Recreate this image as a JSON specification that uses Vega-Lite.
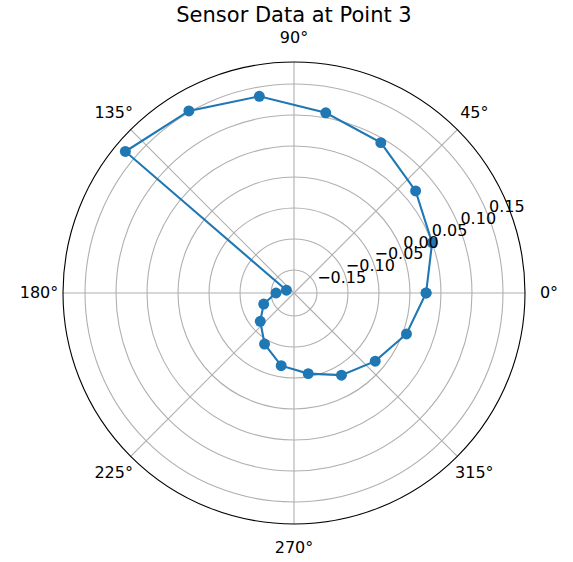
{
  "$schema": "https://vega.github.io/schema/vega-lite/v6.json",
  "width": 462,
  "height": 462,
  "autosize": "none",
  "padding": {"left": 63, "top": 62, "right": 48, "bottom": 38},
  "background": "white",
  "title": {
    "text": "Sensor Data at Point 3",
    "font": "DejaVu Sans",
    "fontSize": 21,
    "fontWeight": "normal",
    "color": "black",
    "anchor": "middle",
    "offset": 4
  },
  "config": {
    "view": {"stroke": null},
    "text": {"font": "DejaVu Sans", "fontSize": 16, "color": "black"}
  },
  "datasets": {
    "series": [
      {"i": 0, "theta": 0, "r": 0.026},
      {"i": 1, "theta": 20, "r": 0.050},
      {"i": 2, "theta": 40, "r": 0.069},
      {"i": 3, "theta": 60, "r": 0.093},
      {"i": 4, "theta": 80, "r": 0.108},
      {"i": 5, "theta": 100, "r": 0.135},
      {"i": 6, "theta": 120, "r": 0.152},
      {"i": 7, "theta": 140, "r": 0.168},
      {"i": 8, "theta": 160, "r": -0.174},
      {"i": 9, "theta": 180, "r": -0.158},
      {"i": 10, "theta": 200, "r": -0.135},
      {"i": 11, "theta": 220, "r": -0.116},
      {"i": 12, "theta": 240, "r": -0.092},
      {"i": 13, "theta": 260, "r": -0.068},
      {"i": 14, "theta": 280, "r": -0.055},
      {"i": 15, "theta": 300, "r": -0.034},
      {"i": 16, "theta": 320, "r": -0.016},
      {"i": 17, "theta": 340, "r": 0.006},
      {"i": 18, "theta": 360, "r": 0.026}
    ],
    "rgrid": [
      {"r": -0.15, "label": "−0.15"},
      {"r": -0.10, "label": "−0.10"},
      {"r": -0.05, "label": "−0.05"},
      {"r": 0.00, "label": "0.00"},
      {"r": 0.05, "label": "0.05"},
      {"r": 0.10, "label": "0.10"},
      {"r": 0.15, "label": "0.15"}
    ],
    "angles": [
      {"deg": 0, "label": "0°"},
      {"deg": 45, "label": "45°"},
      {"deg": 90, "label": "90°"},
      {"deg": 135, "label": "135°"},
      {"deg": 180, "label": "180°"},
      {"deg": 225, "label": "225°"},
      {"deg": 270, "label": "270°"},
      {"deg": 315, "label": "315°"}
    ],
    "edge": [{"r": 0.1855}]
  },
  "layer": [
    {
      "data": {"name": "rgrid"},
      "transform": [{"calculate": "datum.r + 0.187", "as": "rr"}],
      "mark": {"type": "point", "shape": "circle", "filled": false, "stroke": "#b0b0b0", "strokeWidth": 1.1, "opacity": 1},
      "encoding": {
        "x": {"datum": 0, "type": "quantitative", "scale": {"domain": [-0.3725, 0.3725], "nice": false, "zero": false}, "axis": null},
        "y": {"datum": 0, "type": "quantitative", "scale": {"domain": [-0.3725, 0.3725], "nice": false, "zero": false}, "axis": null},
        "size": {"field": "rr", "type": "quantitative", "scale": {"type": "pow", "exponent": 2, "domain": [0, 0.3725], "range": [0, 213444], "zero": true, "nice": false}, "legend": null}
      }
    },
    {
      "data": {"name": "angles"},
      "transform": [
        {"calculate": "0.3725 * cos(datum.deg * PI / 180)", "as": "ex"},
        {"calculate": "0.3725 * sin(datum.deg * PI / 180)", "as": "ey"}
      ],
      "mark": {"type": "rule", "color": "#b0b0b0", "strokeWidth": 1.1},
      "encoding": {
        "x": {"field": "ex", "type": "quantitative", "scale": {"domain": [-0.3725, 0.3725], "nice": false, "zero": false}, "axis": null},
        "y": {"field": "ey", "type": "quantitative", "scale": {"domain": [-0.3725, 0.3725], "nice": false, "zero": false}, "axis": null},
        "x2": {"datum": 0},
        "y2": {"datum": 0}
      }
    },
    {
      "data": {"name": "edge"},
      "transform": [{"calculate": "datum.r + 0.187", "as": "rr"}],
      "mark": {"type": "point", "shape": "circle", "filled": false, "stroke": "black", "strokeWidth": 1.1, "opacity": 1},
      "encoding": {
        "x": {"datum": 0, "type": "quantitative", "scale": {"domain": [-0.3725, 0.3725], "nice": false, "zero": false}, "axis": null},
        "y": {"datum": 0, "type": "quantitative", "scale": {"domain": [-0.3725, 0.3725], "nice": false, "zero": false}, "axis": null},
        "size": {"field": "rr", "type": "quantitative", "scale": {"type": "pow", "exponent": 2, "domain": [0, 0.3725], "range": [0, 213444], "zero": true, "nice": false}, "legend": null}
      }
    },
    {
      "data": {"name": "series"},
      "transform": [
        {"calculate": "(datum.r + 0.187) * cos(datum.theta * PI / 180)", "as": "px"},
        {"calculate": "(datum.r + 0.187) * sin(datum.theta * PI / 180)", "as": "py"}
      ],
      "mark": {"type": "line", "color": "#1f77b4", "strokeWidth": 2.1, "point": {"filled": true, "size": 120, "color": "#1f77b4", "opacity": 1}},
      "encoding": {
        "x": {"field": "px", "type": "quantitative", "scale": {"domain": [-0.3725, 0.3725], "nice": false, "zero": false}, "axis": null},
        "y": {"field": "py", "type": "quantitative", "scale": {"domain": [-0.3725, 0.3725], "nice": false, "zero": false}, "axis": null},
        "order": {"field": "i", "type": "quantitative"}
      }
    },
    {
      "data": {"name": "rgrid"},
      "transform": [
        {"calculate": "(datum.r + 0.187) * cos(22.5 * PI / 180)", "as": "lx"},
        {"calculate": "(datum.r + 0.187) * sin(22.5 * PI / 180)", "as": "ly"}
      ],
      "mark": {"type": "text", "align": "left", "baseline": "bottom", "dx": 2, "dy": 2},
      "encoding": {
        "x": {"field": "lx", "type": "quantitative", "scale": {"domain": [-0.3725, 0.3725], "nice": false, "zero": false}, "axis": null},
        "y": {"field": "ly", "type": "quantitative", "scale": {"domain": [-0.3725, 0.3725], "nice": false, "zero": false}, "axis": null},
        "text": {"field": "label", "type": "nominal"}
      }
    },
    {
      "data": {"name": "angles"},
      "transform": [
        {"calculate": "0.4112 * cos(datum.deg * PI / 180)", "as": "tx"},
        {"calculate": "0.4112 * sin(datum.deg * PI / 180)", "as": "ty"}
      ],
      "mark": {"type": "text", "align": "center", "baseline": "middle"},
      "encoding": {
        "x": {"field": "tx", "type": "quantitative", "scale": {"domain": [-0.3725, 0.3725], "nice": false, "zero": false}, "axis": null},
        "y": {"field": "ty", "type": "quantitative", "scale": {"domain": [-0.3725, 0.3725], "nice": false, "zero": false}, "axis": null},
        "text": {"field": "label", "type": "nominal"}
      }
    }
  ]
}
